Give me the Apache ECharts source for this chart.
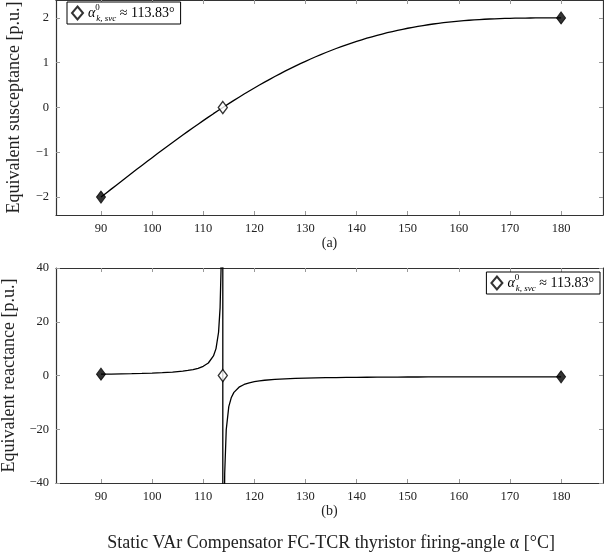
<!DOCTYPE html>
<html>
<head>
<meta charset="utf-8">
<script src="https://cdn.jsdelivr.net/npm/echarts@6/dist/echarts.min.js"></script>
<style>
  html, body { margin: 0; padding: 0; background: #fff; }
  #chart { width: 604px; height: 557px; }
</style>
</head>
<body>
<div id="chart"></div>
<script>
// firing angle grid and equivalent susceptance (a)
const alphaB = [90, 92, 94, 96, 98, 100, 102, 104, 106, 108, 110, 112, 114, 116, 118, 120, 122, 124, 126, 128,
  130, 132, 134, 136, 138, 140, 142, 144, 146, 148, 150, 152, 154, 156, 158, 160, 162, 164, 166, 168,
  170, 172, 174, 176, 178, 180]
const susB = [-2, -1.8222, -1.6451, -1.4687, -1.2935, -1.1201, -0.9488, -0.78, -0.6142, -0.4516, -0.2927, -0.1376,
  0.0128, 0.1589, 0.3, 0.436, 0.5666, 0.6916, 0.8109, 0.9244, 1.0317, 1.1329, 1.228, 1.3169, 1.3995,
  1.476, 1.5465, 1.611, 1.6695, 1.7222, 1.7693, 1.811, 1.8477, 1.8794, 1.9068, 1.9296, 1.9484, 1.9636,
  1.9756, 1.9845, 1.991, 1.9953, 1.998, 1.9994, 1.9999, 2]

// equivalent reactance (b)
const alphaX = [90, 92, 94, 96, 98, 100, 102, 104, 106, 107, 108, 109, 110, 111, 112, 112.5, 113, 113.3, 113.5, 113.6,
  113.82, 113.84, 114, 114.2, 114.5, 115, 115.5, 116, 117, 118, 119, 120, 121, 122, 124, 126, 128, 130,
  132, 134, 136, 138, 140, 142, 144, 146, 148, 150, 152, 154, 156, 158, 160, 162, 164, 166, 168, 170,
  172, 174, 176, 178, 180]
const reactX = [0.5, 0.5488, 0.6079, 0.6809, 0.7731, 0.8928, 1.054, 1.2821, 1.6281, 1.877, 2.2143, 2.689, 3.4165,
  4.651, 7.267, 10.01, 16.1, 25.27, 40.65, 58.3, 1344, -1344, -79.2, -36.45, -20.17, -11.6, -8.157, -6.293,
  -4.348, -3.333, -2.715, -2.294, -1.994, -1.765, -1.446, -1.233, -1.082, -0.9693, -0.8827, -0.8143,
  -0.7594, -0.7145, -0.6775, -0.6466, -0.6207, -0.599, -0.5807, -0.5652, -0.5522, -0.5412, -0.5321,
  -0.5244, -0.5182, -0.5132, -0.5093, -0.5062, -0.5039, -0.5023, -0.5012, -0.5005, -0.5002, -0.5, -0.5]

// marked points
const endAlpha = [90, 180]
const endSus = [-2, 2]
const endReact = [0.5, -0.5]
const zeroAlpha = 113.83

const xTicks = [90, 100, 110, 120, 130, 140, 150, 160, 170, 180]
const yTicksA = [-2, -1, 0, 1, 2]
const yTicksB = [-40, -20, 0, 20, 40]

const serif = '"Liberation Serif", "DejaVu Serif", serif'
const legendText = '{a|α}{sp|0}{sb|k, svc}{t| ≈ 113.83°}'
const legendRich = {
  a: { fontFamily: serif, fontStyle: 'italic', fontSize: 14, lineHeight: 20, color: '#000' },
  sp: { fontFamily: serif, fontSize: 9, lineHeight: 10, verticalAlign: 'top', width: 1, color: '#000' },
  sb: { fontFamily: serif, fontStyle: 'italic', fontSize: 9, lineHeight: 10, verticalAlign: 'bottom', color: '#000' },
  t: { fontFamily: serif, fontSize: 14, lineHeight: 20, color: '#000' }
}

const chart = echarts.init(document.getElementById('chart'))
const fmt = v => String(v).replace('-', '\u2212')

function xAxes(grid, name, gap) {
  const line = { show: true, onZero: false, lineStyle: { color: '#333', width: 1.2 } }
  return [
    {
      type: 'value', gridIndex: grid, min: 81.2, max: 188.2, position: 'bottom',
      axisLine: line,
      axisTick: { inside: true, length: 4, customValues: xTicks, lineStyle: { color: '#999' } },
      axisLabel: { customValues: xTicks, margin: 7, fontFamily: serif, fontSize: 12.5, color: '#222', formatter: fmt },
      splitLine: { show: false },
      name: name, nameLocation: 'middle', nameGap: 21,
      nameTextStyle: { fontFamily: serif, fontSize: 14, color: '#222' }
    },
    {
      type: 'value', gridIndex: grid, min: 81.2, max: 188.2, position: 'top',
      axisLine: line,
      axisTick: { inside: true, length: 4, customValues: xTicks, lineStyle: { color: '#999' } },
      axisLabel: { show: false },
      splitLine: { show: false }
    }
  ]
}

function yAxes(grid, min, max, ticks, name) {
  const line = { show: true, onZero: false, lineStyle: { color: '#333', width: 1.2 } }
  return [
    {
      type: 'value', gridIndex: grid, min: min, max: max, position: 'left',
      axisLine: line,
      axisTick: { inside: true, length: 4, customValues: ticks, lineStyle: { color: '#999' } },
      axisLabel: { customValues: ticks, margin: 7, fontFamily: serif, fontSize: 12.5, color: '#222', formatter: fmt },
      splitLine: { show: false },
      name: name, nameLocation: 'middle', nameGap: 33,
      nameTextStyle: { fontFamily: serif, fontSize: 18, color: '#222' }
    },
    {
      type: 'value', gridIndex: grid, min: min, max: max, position: 'right',
      axisLine: line,
      axisTick: { inside: true, length: 4, customValues: ticks, lineStyle: { color: '#999' } },
      axisLabel: { show: false },
      splitLine: { show: false }
    }
  ]
}

const filled = { color: '#000', borderColor: '#000', borderWidth: 1 }
const hollow = { color: '#fff', borderColor: '#000', borderWidth: 1.4 }

const option = {
  backgroundColor: '#fff',
  animation: false,
  title: {
    text: 'Static VAr Compensator FC-TCR thyristor firing-angle α [°C]',
    left: 326, top: 529, textAlign: 'center',
    textStyle: { fontFamily: serif, fontSize: 18, fontWeight: 'normal', color: '#222' }
  },
  grid: [
    { left: 56, right: 1, top: 0, height: 215, outerBoundsMode: 'none' },
    { left: 56, right: 1, top: 268, height: 215, outerBoundsMode: 'none' }
  ],
  legend: [
    {
      data: ['zeroA'], left: 67, top: 2, orient: 'horizontal',
      itemWidth: 11, itemHeight: 13, itemGap: 4, padding: [1, 6, 1, 4],
      borderColor: '#000', borderWidth: 1, borderRadius: 0, backgroundColor: '#fff',
      formatter: () => legendText, textStyle: { rich: legendRich }
    },
    {
      data: ['zeroB'], right: 4, top: 272, orient: 'horizontal',
      itemWidth: 11, itemHeight: 13, itemGap: 4, padding: [1, 6, 1, 4],
      borderColor: '#000', borderWidth: 1, borderRadius: 0, backgroundColor: '#fff',
      formatter: () => legendText, textStyle: { rich: legendRich }
    }
  ],
  xAxis: [...xAxes(0, '(a)'), ...xAxes(1, '(b)')],
  yAxis: [...yAxes(0, -2.4, 2.4, yTicksA, 'Equivalent susceptance [p.u.]'),
          ...yAxes(1, -40, 40, yTicksB, 'Equivalent reactance [p.u.]')],
  series: [
    {
      name: 'susceptance', type: 'line', xAxisIndex: 0, yAxisIndex: 0,
      data: alphaB.map((a, i) => [a, susB[i]]),
      showSymbol: false, smooth: 0.2, lineStyle: { color: '#000', width: 1.3 }, z: 2
    },
    {
      name: 'endsA', type: 'scatter', xAxisIndex: 0, yAxisIndex: 0,
      data: endAlpha.map((a, i) => [a, endSus[i]]),
      symbol: 'diamond', symbolSize: [9, 12], itemStyle: filled, z: 3
    },
    {
      name: 'zeroA', type: 'scatter', xAxisIndex: 0, yAxisIndex: 0,
      data: [[zeroAlpha, 0]],
      symbol: 'diamond', symbolSize: [9, 12], itemStyle: hollow, z: 3
    },
    {
      name: 'reactance', type: 'line', xAxisIndex: 2, yAxisIndex: 2,
      data: alphaX.map((a, i) => [a, reactX[i]]),
      showSymbol: false, clip: true, lineStyle: { color: '#000', width: 1.3 }, z: 2
    },
    {
      name: 'endsB', type: 'scatter', xAxisIndex: 2, yAxisIndex: 2,
      data: endAlpha.map((a, i) => [a, endReact[i]]),
      symbol: 'diamond', symbolSize: [9, 12], itemStyle: filled, z: 3
    },
    {
      name: 'zeroB', type: 'scatter', xAxisIndex: 2, yAxisIndex: 2,
      data: [[zeroAlpha, 0]],
      symbol: 'diamond', symbolSize: [9, 12], itemStyle: hollow, z: 3
    }
  ]
}
chart.setOption(option)

window.addEventListener('resize', () => chart.resize())
</script>
</body>
</html>
